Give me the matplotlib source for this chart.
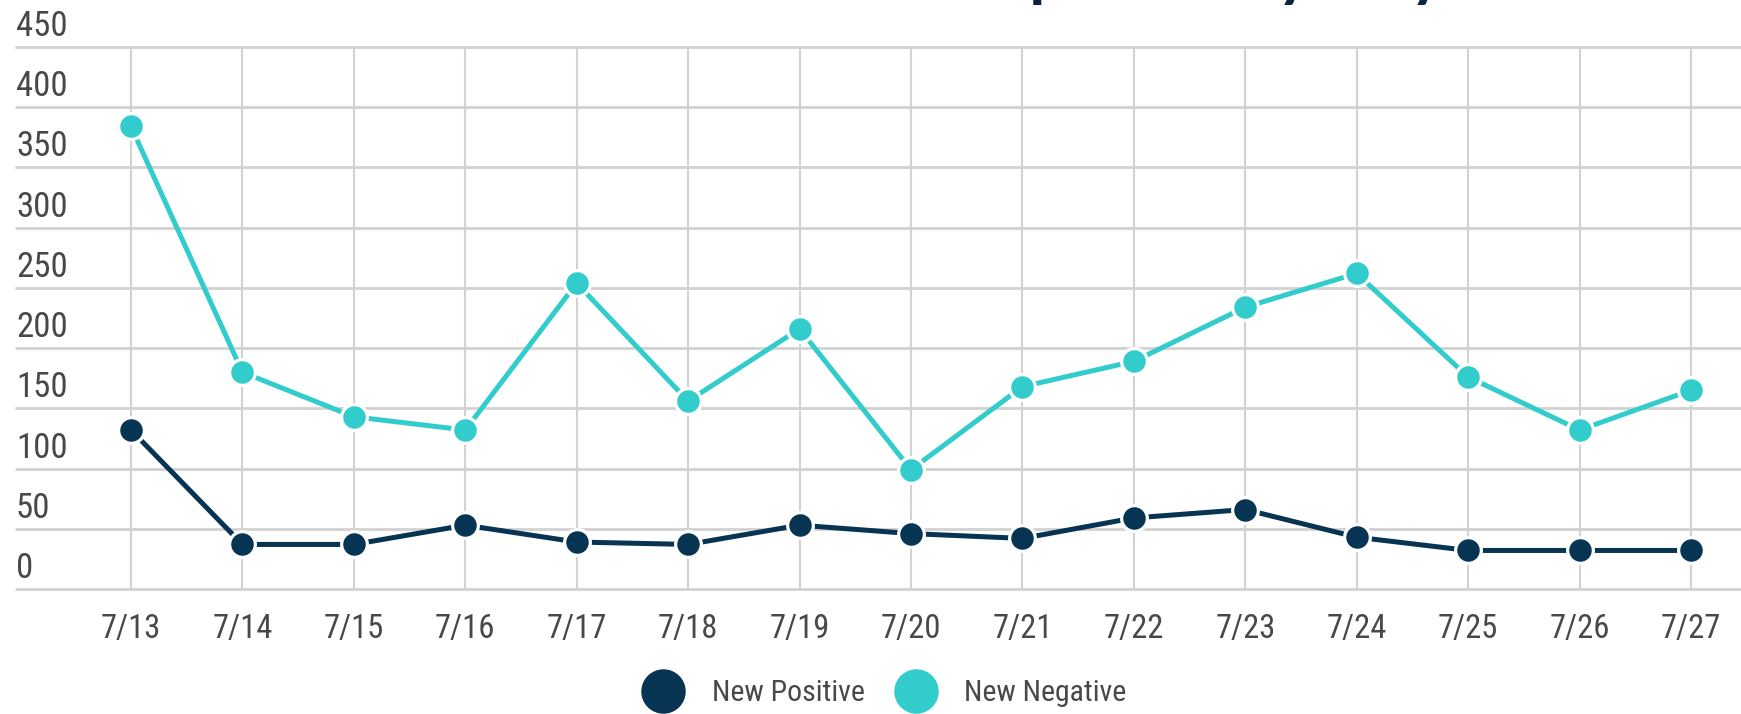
import numpy as np
import matplotlib
matplotlib.use("Agg")
import matplotlib.pyplot as plt
import matplotlib.transforms as mtransforms
from matplotlib.lines import Line2D

# ---- data ----
dates = ["7/13", "7/14", "7/15", "7/16", "7/17", "7/18", "7/19", "7/20",
         "7/21", "7/22", "7/23", "7/24", "7/25", "7/26", "7/27"]
new_positive = [132, 37, 37, 53, 39, 37, 53, 46, 42, 59, 66, 43, 32, 32, 32]
new_negative = [384, 180, 143, 132, 254, 156, 216, 99, 168, 189, 234, 262, 176, 132, 165]
y_ticks = [0, 50, 100, 150, 200, 250, 300, 350, 400, 450]
series_names = ["New Positive", "New Negative"]
title_text = "New Test Results Reported by Day"

NAVY = "#063452"
TEAL = "#33CCCC"
GRID = "#d2d2d2"
TXT = "#484848"
FONT = ["Roboto Condensed", "Lato", "DejaVu Sans"]

plt.rcParams["font.family"] = FONT

W, H = 1741, 714
fig = plt.figure(figsize=(W / 100, H / 100), dpi=100)
fig.patch.set_facecolor("white")

left_px, right_px = 15, W
top_px, bot_px = 47, 589
ax = fig.add_axes([left_px / W, (H - bot_px) / H, (right_px - left_px) / W, (bot_px - top_px) / H])

x = np.arange(len(dates))
step = (1691 - 131) / (len(dates) - 1)
ax.set_xlim(-(131 - left_px) / step, (len(dates) - 1) + (right_px - 1691) / step)
ax.set_ylim(y_ticks[0], y_ticks[-1])

for s in ax.spines.values():
    s.set_visible(False)

# grid
ax.hlines(y_ticks, *ax.get_xlim(), colors=GRID, linewidth=2.0, clip_on=False, zorder=0)
ax.vlines(x, y_ticks[0], y_ticks[-1], colors=GRID, linewidth=1.5, clip_on=False, zorder=0)

# series
ax.plot(x, new_positive, color=NAVY, lw=3.6, marker="o", ms=18.5,
        mfc=NAVY, mec="white", mew=2.3, zorder=3, clip_on=False)
ax.plot(x, new_negative, color=TEAL, lw=3.6, marker="o", ms=18.5,
        mfc=TEAL, mec="white", mew=2.3, zorder=3, clip_on=False)

# x ticks
ax.set_xticks(x, dates)
ax.tick_params(axis="x", length=0, pad=17, labelsize=23.5, labelcolor=TXT)
ax.set_yticks([])

# y labels sitting above their gridlines
trans = mtransforms.blended_transform_factory(ax.transAxes, ax.transData)
trans = mtransforms.offset_copy(trans, fig=fig, x=1, y=11, units="dots")
for v in y_ticks:
    ax.text(0, v, str(v), transform=trans, ha="left", va="baseline",
            fontsize=25, color=TXT)

# legend
handles = [Line2D([], [], ls="none", marker="o", ms=31, color=NAVY),
           Line2D([], [], ls="none", marker="o", ms=31, color=TEAL)]
fig.legend(handles, series_names, loc="center",
           bbox_to_anchor=(884 / W, 1 - 693 / H), ncol=2, frameon=False,
           handlelength=1.45, handletextpad=0.9, columnspacing=1.0,
           fontsize=21.5, labelcolor=TXT, borderpad=0)

# title (mostly cut off at the top edge)
fig.text(0.5 + 66 / W, 1 + 6 / H, title_text, ha="center", va="baseline",
         fontsize=47, fontweight="bold", color="#0a2342",
         family=["Lato", "DejaVu Sans"])

fig.savefig("out.png", dpi=100, facecolor="white")
